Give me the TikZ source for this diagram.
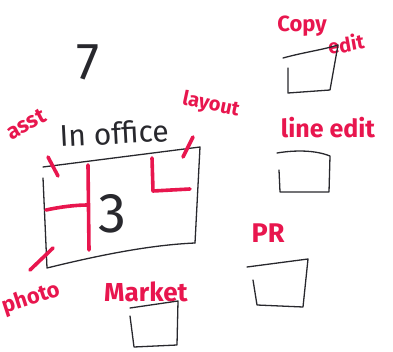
\documentclass[tikz,border=0pt]{standalone}
\usepackage{fontspec}
\setsansfont{Fira Sans}
\definecolor{markred}{RGB}{232,22,78}
\definecolor{pencil}{RGB}{40,40,45}

\begin{document}
\begin{tikzpicture}[x=1pt, y=-1pt,
        ink/.style={draw=pencil, line width=1.3pt, line cap=round, line join=round},
        marker/.style={draw=markred, line width=3.6pt, line cap=round, line join=round},
        scrawl/.style={
            text=markred, inner sep=0pt,
            font=\sffamily\bfseries\fontsize{#1}{#1}\selectfont,
          },
          scrawl/.default=22,
        pen/.style={
            text=pencil, inner sep=0pt,
            font=\sffamily\fontsize{#1}{#1}\selectfont,
          },
          pen/.default=28
        ]
        \useasboundingbox (0,0) rectangle (393,352);
        \node[pen=52] (seven) at (88,62) {7};
        \node[pen=30, rotate=3] (inoffice) at (114,133) {In office};
        \node[pen=56] (three) at (112,214) {3};
        \node[scrawl=22, rotate=28] (asst) at (26,124) {asst};
        \node[scrawl=20, rotate=-12] (layout) at (211,105) {layout};
        \node[scrawl=22, rotate=18] (photo) at (31,299) {photo};
        \node[scrawl=26] (market) at (146,292) {Market};
        \node[scrawl=27] (pr) at (268,233) {PR};
        \node[scrawl=22] (copy) at (302,26) {Copy};
        \node[scrawl=20, rotate=10] (edit) at (346,44) {edit};
        \node[scrawl=25] (lineedit) at (328,128) {line edit};

        \draw[ink] (43,167) -- (200,147) -- (195,243);
        \draw[ink] (43,178) -- (47,268) .. controls (100,255) and (150,245) .. (195,243);
        \draw[marker] (88,165) -- (89,250);
        \draw[marker] (46,210) .. controls (60,207) and (75,205) .. (88,205);
        \draw[marker] (152,158) -- (153,191) -- (190,189);
        \draw[marker] (48,157) -- (58,176);
        \draw[marker] (183,157) -- (193,137);
        \draw[marker] (30,270) -- (53,248);

        \draw[ink] (283,58) .. controls (305,52) and (322,50) .. (338,45) -- (330,90) -- (288,93) -- (288,68);
        \draw[ink] (277,153) .. controls (295,150) and (315,150) .. (330,156) -- (329,192) -- (280,192) -- (279,170);
        \draw[ink] (247,267) -- (308,259) -- (303,307) -- (257,305) -- (253,280);
        \draw[ink] (130,308) -- (178,301) -- (177,345) -- (134,347) -- (130,316);
\end{tikzpicture}
\end{document}
